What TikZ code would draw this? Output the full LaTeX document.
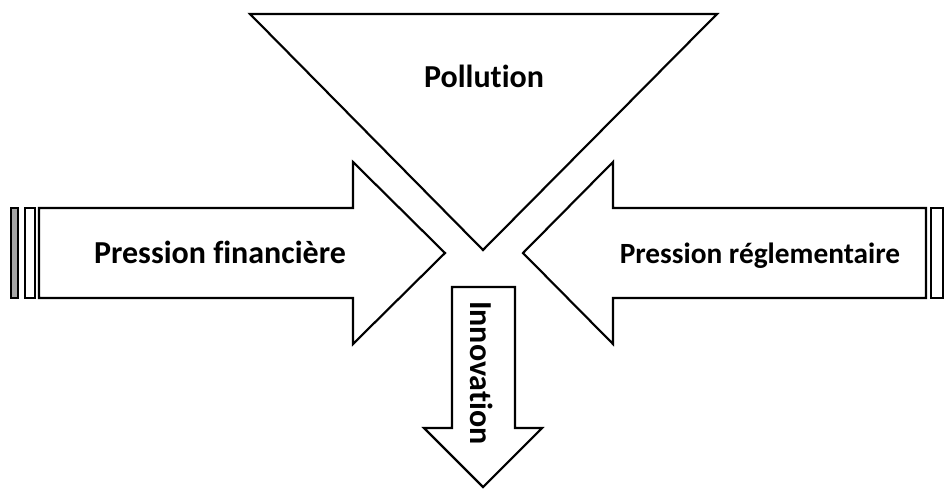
\documentclass[tikz,border=0pt]{standalone}
\usepackage{fontspec}
\setmainfont{Carlito}[Ligatures=NoCommon]
\usetikzlibrary{calc}

\begin{document}
\begin{tikzpicture}[x=0.75pt,y=-0.75pt,line width=1.6pt,line join=miter]
\tikzset{lbl/.style={font=\bfseries\fontsize{24}{28}\selectfont,anchor=base}}
\useasboundingbox (0,0) rectangle (946,490);
\def\bt{208}
\def\bb{298}
\coordinate (C) at (483,253);
% triangle
\draw (250,14) -- (717,14) -- (483,250) -- cycle;
% left arrow
\draw (39,\bt) -- (353,\bt) -- (353,162) -- (445,253) -- (353,344) -- (353,\bb) -- (39,\bb) -- cycle;
\draw[fill=black!35] (11,\bt) rectangle (18,\bb);
\draw (25,\bt) rectangle (35,\bb);
% right arrow
\draw (926,\bt) -- (613,\bt) -- (613,162) -- (523,253) -- (613,344) -- (613,\bb) -- (926,\bb) -- cycle;
\draw (931,\bt) rectangle (943,\bb);
% down arrow
\draw (452,287) -- (515,287) -- (515,428) -- (542,428) -- (483,487) -- (424,428) -- (452,428) -- cycle;
\node[lbl] (pol) at (484,87) {Pollution};
\node[lbl] (fin) at (220,263) {Pression financière};
\node[lbl,font=\bfseries\fontsize{22}{26}\selectfont] (reg) at (760,263) {Pression réglementaire};
\node[lbl,anchor=center,rotate=-90] (inn) at (482,373) {Innovation};
\end{tikzpicture}
\end{document}
